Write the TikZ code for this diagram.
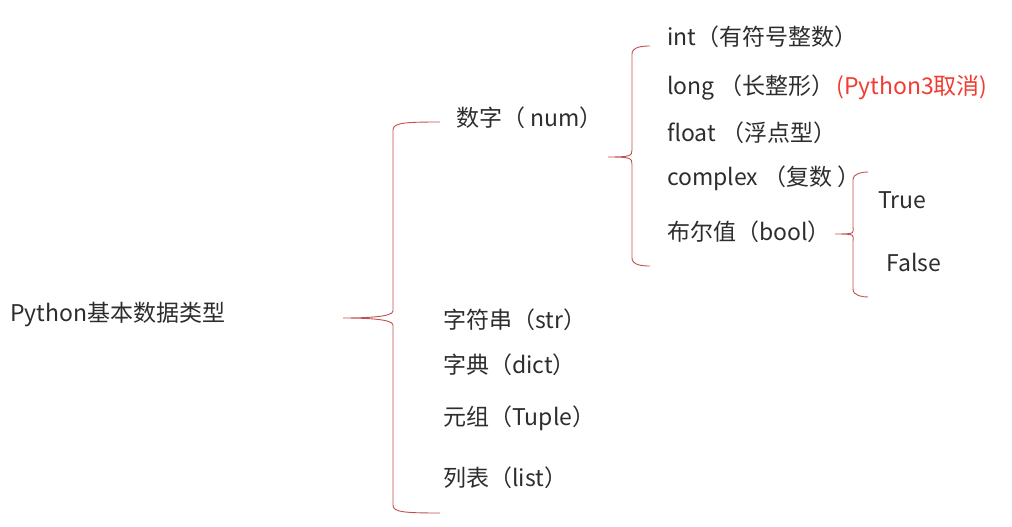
\documentclass[tikz,border=0pt]{standalone}
\usepackage{fontspec}
\setmainfont{Noto Sans CJK SC}
\usepackage{tikz}
\usetikzlibrary{positioning}
\usepackage{xcolor}
\definecolor{bracered}{RGB}{192,80,77}
\definecolor{notered}{RGB}{240,60,50}
\definecolor{textgray}{RGB}{45,45,45}
% brace: end x, top y, spine x, tip x, tip y, bottom y
\newcommand{\redbrace}[6]{%
  \draw[bracestyle] (#1,#2) .. controls (#3+10,#2) and (#3,#2+1) .. (#3,#2+8)
    -- (#3,#5-7) .. controls (#3,#5-1) and (#4+22,#5) .. (#4,#5)
    .. controls (#4+22,#5) and (#3,#5+1) .. (#3,#5+7)
    -- (#3,#6-8) .. controls (#3,#6-1) and (#3+10,#6) .. (#1,#6);}

\begin{document}
\begin{tikzpicture}[x=1pt,y=-1pt]
\tikzstyle{bracestyle}=[draw=bracered,line width=0.9pt]
\tikzstyle{item}=[anchor=west,inner sep=0pt,text=textgray,font=\fontsize{23pt}{27pt}\selectfont]

\useasboundingbox (0,0) rectangle (1012,527);

\node[item] (root) at (10,315) {Python基本数据类型};

\node[item] (num) at (456,118) {数字（ num）};
\node[item] (str) at (443,320) {字符串（str）};
\node[item] (dict) at (443,365) {字典（dict）};
\node[item] (tuple) at (443,418) {元组（Tuple）};
\node[item] (list) at (443,478) {列表（list）};

\node[item] (int) at (667,37) {int（有符号整数）};
\node[item] (long) at (667,88) {long （长整形）};
\node[item,text=notered,right=1pt of long] (py3) {(Python3取消)};
\node[item] (float) at (667,133) {float （浮点型）};
\node[item] (complex) at (667,178) {complex （复数 ）};
\node[item] (bool) at (667,232) {布尔值（bool）};

\node[item] (true) at (878,200) {True};
\node[item] (false) at (886,262) {False};

\redbrace{440}{122}{393}{343}{318}{513}
\redbrace{650}{46}{632}{608}{157}{266}
\redbrace{868}{172}{853}{835}{234}{297}
\end{tikzpicture}
\end{document}
